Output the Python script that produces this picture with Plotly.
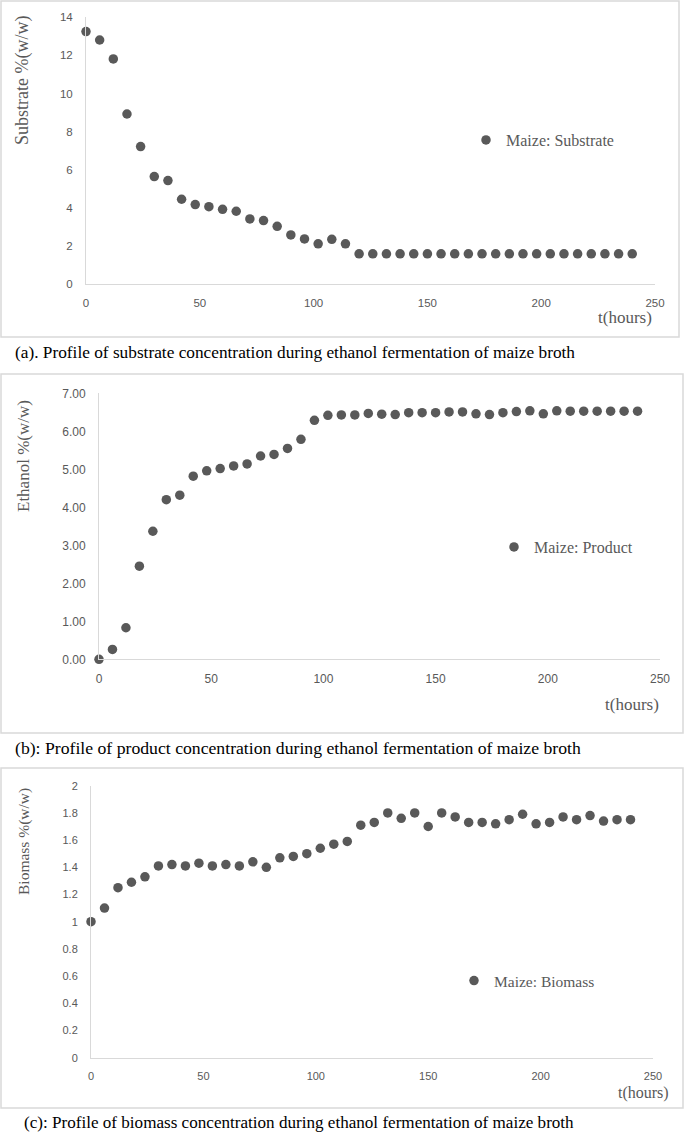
import plotly.graph_objects as go

# ---------------- data ----------------
time_h = [0, 6, 12, 18, 24, 30, 36, 42, 48, 54, 60, 66, 72, 78, 84, 90, 96, 102, 108, 114,
          120, 126, 132, 138, 144, 150, 156, 162, 168, 174, 180, 186, 192, 198, 204, 210,
          216, 222, 228, 234, 240]

substrate = [13.25, 12.81, 11.82, 8.93, 7.22, 5.65, 5.44, 4.46, 4.18, 4.07, 3.93, 3.83,
             3.43, 3.34, 3.04, 2.59, 2.38, 2.12, 2.36, 2.12,
             1.6, 1.6, 1.6, 1.6, 1.6, 1.6, 1.6, 1.6, 1.6, 1.6, 1.6, 1.6, 1.6, 1.6, 1.6,
             1.6, 1.6, 1.6, 1.6, 1.6, 1.6]

ethanol = [0.0, 0.26, 0.83, 2.45, 3.37, 4.20, 4.32, 4.82, 4.96, 5.02, 5.09, 5.14, 5.35,
           5.39, 5.55, 5.79, 6.29, 6.42, 6.43, 6.43, 6.47, 6.45, 6.44, 6.49, 6.49, 6.49,
           6.51, 6.51, 6.46, 6.44, 6.49, 6.52, 6.54, 6.46, 6.54, 6.53, 6.53, 6.53, 6.53,
           6.53, 6.53]

biomass = [1.00, 1.10, 1.25, 1.29, 1.33, 1.41, 1.42, 1.41, 1.43, 1.41, 1.42, 1.41, 1.44,
           1.40, 1.47, 1.48, 1.50, 1.54, 1.57, 1.59, 1.71, 1.73, 1.80, 1.76, 1.80, 1.70,
           1.80, 1.77, 1.73, 1.73, 1.72, 1.75, 1.79, 1.72, 1.73, 1.77, 1.75, 1.78, 1.74,
           1.75, 1.75]

series_names = ["Maize: Substrate", "Maize: Product", "Maize: Biomass"]
y_titles = ["Substrate %(w/w)", "Ethanol %(w/w)", "Biomass %(w/w)"]
x_title = "t(hours)"
captions = [
    "(a). Profile of substrate concentration during ethanol fermentation of maize broth",
    "(b): Profile of product concentration during ethanol fermentation of maize broth",
    "(c): Profile of biomass concentration during ethanol fermentation of maize broth",
]

# ---------------- layout helpers ----------------
W, H = 685, 1134
def px(x):
    return x / W
def py(y):
    return 1 - y / H

MARK = "#595959"
LINE = "#d9d9d9"
SERIF = "Liberation Serif, Times New Roman, serif"
SANS = "Liberation Sans, Arial, sans-serif"

fig = go.Figure()

panels = [
    dict(y=substrate, x0=86, x1=655, yt=17.3, yb=284.3, yr=[0, 14], dtick=2, fmt="",
         tick=11.5, leg=(466, 140, 16), ytitle=(23, 81, 18), xtitle=(625, 317, 17),
         box=(1, 1, 679, 337), cap=(13, 353, 17.3), legend="legend"),
    dict(y=ethanol, x0=99, x1=660, yt=393.3, yb=659.3, yr=[0, 7], dtick=1, fmt=".2f",
         tick=12, leg=(494, 547, 16), ytitle=(23, 456, 17), xtitle=(632, 704, 17),
         box=(1, 374, 683, 733), cap=(13, 748, 17.7), legend="legend2"),
    dict(y=biomass, x0=91, x1=653, yt=785.7, yb=1057.7, yr=[0, 2], dtick=0.2, fmt="",
         tick=11, leg=(454, 981, 15.5), ytitle=(24, 842, 15.5), xtitle=(643, 1093, 16),
         box=(1, 768, 683, 1108), cap=(22, 1122, 17.1), legend="legend3"),
]

for i, p in enumerate(panels):
    n = "" if i == 0 else str(i + 1)
    fig.add_trace(go.Scatter(
        x=time_h, y=p["y"], mode="markers", name=series_names[i],
        marker=dict(color=MARK, size=9.5, line=dict(width=0)),
        xaxis="x" + n, yaxis="y" + n, cliponaxis=False, legend=p["legend"],
        showlegend=True,
    ))
    xa = dict(domain=[px(p["x0"]), px(p["x1"])], range=[0, 250], dtick=50,
              showline=True, linecolor=LINE, linewidth=1, showgrid=False, zeroline=False,
              ticks="", tickfont=dict(family=SANS, size=p["tick"], color=MARK),
              ticklabelstandoff=8, anchor="y" + n, fixedrange=True, automargin=False)
    ya = dict(domain=[py(p["yb"]), py(p["yt"])], range=p["yr"], dtick=p["dtick"],
              tickformat=p["fmt"], showline=True, linecolor=LINE, linewidth=1,
              showgrid=False, zeroline=False, ticks="",
              tickfont=dict(family=SANS, size=p["tick"], color=MARK),
              ticklabelstandoff=10, anchor="x" + n, fixedrange=True, automargin=False)
    fig.update_layout(**{"xaxis" + n: xa, "yaxis" + n: ya})

    lx, ly, ls = p["leg"]
    fig.update_layout(**{p["legend"]: dict(
        x=px(lx), y=py(ly), xanchor="left", yanchor="middle",
        bgcolor="rgba(0,0,0,0)", borderwidth=0, itemwidth=30,
        font=dict(family=SERIF, size=ls, color=MARK))})

    bx0, by0, bx1, by1 = p["box"]
    fig.add_shape(type="rect", xref="paper", yref="paper",
                  x0=px(bx0), x1=px(bx1), y0=py(by1), y1=py(by0),
                  line=dict(color=LINE, width=1.5), fillcolor="rgba(0,0,0,0)", layer="below")

    tx, ty, ts = p["ytitle"]
    fig.add_annotation(text=y_titles[i], xref="paper", yref="paper", x=px(tx), y=py(ty),
                       xanchor="center", yanchor="middle", textangle=-90, showarrow=False,
                       font=dict(family=SERIF, size=ts, color=MARK))
    hx, hy, hs = p["xtitle"]
    fig.add_annotation(text=x_title, xref="paper", yref="paper", x=px(hx), y=py(hy),
                       xanchor="center", yanchor="middle", showarrow=False,
                       font=dict(family=SERIF, size=hs, color=MARK))
    cx, cy, cs = p["cap"]
    fig.add_annotation(text=captions[i], xref="paper", yref="paper", x=px(cx), y=py(cy),
                       xanchor="left", yanchor="middle", showarrow=False,
                       font=dict(family=SERIF, size=cs, color="#000000"))

fig.update_layout(width=W, height=H, margin=dict(l=0, r=0, t=0, b=0, autoexpand=False),
                  paper_bgcolor="white", plot_bgcolor="white")

fig.write_html("out.html", config={"displayModeBar": False},
               post_script="document.body.style.margin='0';"
                           "document.body.style.padding='0';"
                           "document.body.style.overflow='hidden';")
